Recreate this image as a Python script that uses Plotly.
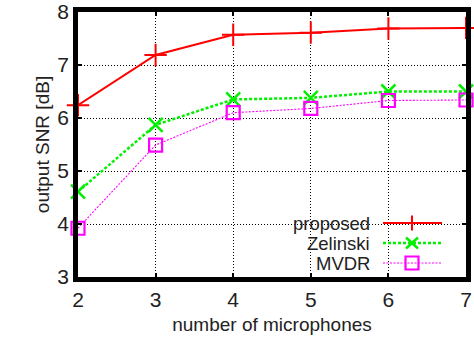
import plotly.graph_objects as go

mics = [2, 3, 4, 5, 6, 7]
proposed = [6.24, 7.19, 7.57, 7.61, 7.69, 7.70]
zelinski = [4.61, 5.87, 6.35, 6.38, 6.50, 6.50]
mvdr = [3.92, 5.49, 6.10, 6.18, 6.33, 6.34]
series_names = ["proposed", "Zelinski", "MVDR"]

FONT = "Liberation Sans, Arial, sans-serif"
RED, GREEN, MAGENTA = "#ff0000", "#00f000", "#ff00ff"
GREEN_DASH = "3px,2px"
MAG_DASH = "2px,1.5px"

W, H = 474, 340
ML, MR, MT, MB = 78, 8, 12, 63
PW, PH = W - ML - MR, H - MT - MB


def px(x):
    return (x - ML) / PW


def py(y):
    return (H - MB - y) / PH


fig = go.Figure()
fig.add_trace(go.Scatter(
    x=mics, y=proposed, name=series_names[0], mode="lines+markers",
    line=dict(color=RED, width=2),
    marker=dict(symbol="cross-thin-open", size=16, line=dict(color=RED, width=2)),
    cliponaxis=False))
fig.add_trace(go.Scatter(
    x=mics, y=zelinski, name=series_names[1], mode="lines+markers",
    line=dict(color=GREEN, width=2.5, dash=GREEN_DASH),
    marker=dict(symbol="x-thin-open", size=14, line=dict(color=GREEN, width=2.5)),
    cliponaxis=False))
fig.add_trace(go.Scatter(
    x=mics, y=mvdr, name=series_names[2], mode="lines+markers",
    line=dict(color=MAGENTA, width=1.1, dash=MAG_DASH),
    marker=dict(symbol="square-open", size=13, line=dict(color=MAGENTA, width=2.2)),
    cliponaxis=False))

axis_common = dict(
    showline=True, linewidth=4.5, linecolor="black", mirror="ticks",
    showgrid=True, gridcolor="black", gridwidth=1.3, griddash="1px,2px",
    ticks="inside", ticklen=4, tickcolor="black", tickwidth=2,
    zeroline=False, automargin=False,
    tickfont=dict(family=FONT, size=21, color="#222"),
)

# gnuplot-style key: text right-aligned, sample to its right
shapes = [dict(type="rect", xref="paper", yref="paper", layer="between",
               x0=px(280), x1=px(452), y0=py(273), y1=py(211),
               fillcolor="white", line=dict(width=0))]
annotations = []
rows = [223.0, 243.0, 263.0]
styles = [(RED, 2, "solid"), (GREEN, 2.5, GREEN_DASH), (MAGENTA, 1.1, MAG_DASH)]
mx = 412
for name, ry, (col, lw, dash) in zip(series_names, rows, styles):
    annotations.append(dict(text=name, xref="paper", yref="paper", x=px(371), y=py(ry + 0.8),
                            xanchor="right", yanchor="middle", showarrow=False, borderpad=0,
                            font=dict(family=FONT, size=18.5, color="#222")))
    shapes.append(dict(type="line", xref="paper", yref="paper", layer="above",
                       x0=px(383), x1=px(442), y0=py(ry), y1=py(ry),
                       line=dict(color=col, width=lw, dash=dash)))
# legend sample markers
shapes.append(dict(type="line", xref="paper", yref="paper", layer="above",
                   x0=px(mx), x1=px(mx), y0=py(rows[0] - 7.5), y1=py(rows[0] + 7.5),
                   line=dict(color=RED, width=2)))
for dx, dy in [(6, 5.5), (6, -5.5)]:
    shapes.append(dict(type="line", xref="paper", yref="paper", layer="above",
                       x0=px(mx - dx), x1=px(mx + dx), y0=py(rows[1] - dy), y1=py(rows[1] + dy),
                       line=dict(color=GREEN, width=2.5)))
shapes.append(dict(type="rect", xref="paper", yref="paper", layer="above",
                   x0=px(mx - 6.5), x1=px(mx + 6.5), y0=py(rows[2] - 6.5), y1=py(rows[2] + 6.5),
                   line=dict(color=MAGENTA, width=2.2)))

fig.update_layout(
    width=W, height=H,
    margin=dict(l=ML, r=MR, t=MT, b=MB, autoexpand=False),
    paper_bgcolor="white", plot_bgcolor="white",
    font=dict(family=FONT, color="#222"),
    xaxis=dict(range=[2, 7], dtick=1,
               title=dict(text="number of microphones", font=dict(family=FONT, size=19), standoff=9),
               **axis_common),
    yaxis=dict(range=[3, 8], dtick=1,
               title=dict(text="output SNR [dB]", font=dict(family=FONT, size=19), standoff=4),
               **axis_common),
    showlegend=False,
    shapes=shapes,
    annotations=annotations,
)

fig.write_html("out.html", config={"displayModeBar": False},
               post_script="document.body.style.margin='0';")
